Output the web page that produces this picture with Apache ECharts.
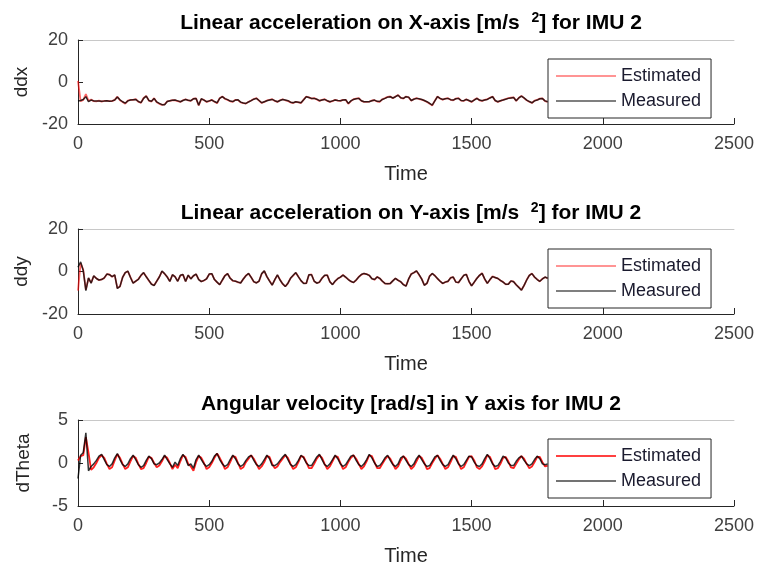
<!DOCTYPE html>
<html>
<head>
<meta charset="utf-8">
<script src="https://cdn.jsdelivr.net/npm/echarts@6/dist/echarts.min.js"></script>
<style>html,body{margin:0;padding:0;background:#fff}#c{width:757px;height:570px}</style>
</head>
<body>
<div id="c"></div>
<script>
// sampling grid: time = 0, 10, ..., 1790
const timeStart = 0, timeStep = 10;

const ddxMeasured = [
-9.0,-8.8,-8.3,-7.0,-9.4,-8.6,-9.0,-9.1,-9.0,-9.2,
-9.1,-8.9,-9.2,-9.0,-8.6,-7.2,-8.5,-9.4,-10.1,-9.0,
-8.6,-8.4,-8.3,-9.3,-9.8,-7.8,-6.7,-8.8,-9.2,-7.8,
-9.5,-10.2,-10.8,-10.8,-9.3,-8.9,-8.7,-8.6,-9.0,-9.4,
-8.8,-8.3,-8.7,-8.9,-8.0,-7.9,-11.0,-8.0,-8.6,-9.4,
-9.0,-8.6,-9.3,-9.9,-7.8,-7.0,-7.9,-8.4,-9.1,-9.3,
-8.6,-8.5,-9.6,-10.0,-10.2,-9.5,-8.9,-8.2,-7.8,-8.8,
-9.9,-9.4,-8.9,-8.6,-8.3,-8.9,-9.4,-8.8,-8.3,-8.6,
-8.9,-9.6,-9.9,-9.4,-9.6,-9.9,-8.5,-7.0,-7.4,-7.8,
-7.8,-8.2,-8.9,-8.6,-8.3,-8.9,-9.4,-9.0,-8.6,-8.8,
-8.9,-8.6,-8.4,-10.2,-9.0,-8.3,-8.0,-7.8,-8.9,-9.4,
-9.4,-9.4,-8.9,-8.6,-9.2,-9.3,-8.3,-7.8,-7.2,-7.0,
-7.6,-7.0,-6.3,-7.5,-7.8,-7.0,-7.2,-8.8,-8.2,-7.8,
-8.0,-8.3,-8.8,-9.4,-10.2,-11.0,-9.0,-7.0,-7.8,-8.3,
-8.0,-7.8,-8.4,-8.6,-8.0,-7.8,-8.8,-8.9,-8.3,-8.8,
-9.4,-8.6,-7.8,-8.6,-8.9,-8.6,-8.3,-7.6,-7.0,-8.8,
-9.4,-8.9,-8.6,-8.2,-7.8,-7.6,-7.4,-8.9,-7.6,-6.7,
-7.6,-8.6,-9.3,-9.9,-9.0,-8.6,-8.0,-7.9,-9.0,-9.4
];
const ddxEstimated = [
0.5,-9.2,-8.5,-5.8,-9.0,-8.4,-9.1,-9.2,-8.9,-9.3,
-9.0,-9.0,-9.1,-9.1,-8.5,-7.0,-8.7,-9.5,-10.3,-8.9,
-8.5,-8.5,-8.2,-9.4,-9.9,-7.6,-6.6,-8.9,-9.3,-7.7,
-9.6,-10.4,-10.9,-10.7,-9.2,-9.0,-8.6,-8.7,-9.1,-9.5,
-8.7,-8.2,-8.8,-9.0,-7.9,-7.8,-11.2,-8.1,-8.5,-9.5,
-9.1,-8.5,-9.4,-10.1,-7.7,-6.9,-8.0,-8.5,-9.2,-9.4,
-8.5,-8.6,-9.7,-10.1,-10.3,-9.4,-8.8,-8.1,-7.7,-8.9,
-10.0,-9.5,-8.8,-8.5,-8.2,-9.0,-9.5,-8.7,-8.2,-8.7,
-9.0,-9.7,-10.0,-9.5,-9.7,-10.0,-8.4,-6.9,-7.3,-7.9,
-7.7,-8.3,-9.0,-8.5,-8.2,-9.0,-9.5,-9.1,-8.5,-8.9,
-9.0,-8.5,-8.5,-10.4,-9.1,-8.2,-7.9,-7.7,-9.0,-9.5,
-9.5,-9.3,-8.8,-8.7,-9.3,-9.4,-8.2,-7.7,-7.1,-6.9,
-7.7,-6.9,-6.2,-7.6,-7.9,-6.9,-7.3,-8.9,-8.1,-7.7,
-8.1,-8.4,-8.9,-9.5,-10.3,-11.2,-8.9,-6.9,-7.9,-8.4,
-7.9,-7.7,-8.5,-8.7,-7.9,-7.7,-8.9,-9.0,-8.2,-8.9,
-9.5,-8.5,-7.7,-8.7,-9.0,-8.5,-8.2,-7.5,-6.9,-8.9,
-9.5,-9.0,-8.5,-8.1,-7.7,-7.5,-7.3,-9.0,-7.5,-6.6,
-7.7,-8.7,-9.4,-10.0,-8.9,-8.5,-7.9,-7.8,-9.1,-9.5
];

const ddyMeasured = [
2.0,4.5,0.5,-9.0,-3.0,-5.5,-2.0,-3.3,-4.0,-3.8,
-3.0,-1.2,-1.5,-2.4,-1.6,-8.0,-7.0,-2.8,-0.5,0.2,
-2.8,-5.5,-4.5,-3.7,-1.8,-0.5,-2.5,-4.2,-6.0,-6.6,
-4.5,-2.6,0.2,-1.0,-2.6,-4.7,-1.5,-2.5,-4.6,-1.8,
-1.4,-4.7,-1.7,-3.5,-2.0,-1.2,-3.8,-4.8,-4.2,-3.5,
-1.2,-1.0,-3.8,-5.0,-6.2,-4.0,-2.0,-1.0,-3.2,-4.3,
-4.6,-5.0,-5.4,-3.5,-2.0,-0.9,-2.8,-4.8,-5.4,-4.5,
-1.0,0.3,-2.4,-4.5,-6.4,-3.8,-1.6,-4.0,-5.8,-7.1,
-5.5,-3.2,-1.8,-0.5,-2.5,-4.3,-5.6,-5.5,-1.5,-1.5,
-4.5,-5.5,-5.0,-3.2,-1.8,-1.8,-4.8,-6.2,-4.5,-3.4,
-2.6,-1.7,-2.6,-3.8,-4.6,-5.2,-4.0,-2.6,-1.4,-0.9,
-1.3,-1.8,-3.4,-3.8,-2.6,-3.2,-4.6,-5.6,-5.8,-5.6,
-4.4,-3.2,-4.2,-4.8,-6.2,-6.9,-3.5,-1.2,-0.5,0.3,
-1.5,-3.6,-6.5,-5.5,-2.2,-0.9,-2.0,-3.3,-4.6,-5.6,
-5.0,-4.6,-3.0,-2.6,-5.0,-5.2,-3.5,-1.8,-1.4,-4.6,
-6.8,-5.0,-3.3,-1.8,-0.9,-3.5,-5.6,-3.8,-2.4,-2.8,
-3.3,-4.2,-5.0,-6.0,-6.0,-4.4,-4.8,-6.2,-7.5,-8.8,
-6.5,-4.0,-1.8,-1.0,-2.6,-3.8,-4.6,-3.5,-2.6,-3.2
];
const ddyEstimated = [
-9.0,4.0,0.8,-8.6,-3.2,-5.3,-2.2,-3.2,-4.1,-3.7,
-3.1,-1.3,-1.4,-2.5,-1.7,-7.8,-7.1,-2.7,-0.6,0.1,
-2.7,-5.4,-4.6,-3.6,-1.9,-0.6,-2.4,-4.3,-5.9,-6.5,
-4.6,-2.5,0.1,-1.1,-2.5,-4.6,-1.6,-2.4,-4.5,-1.9,
-1.5,-4.6,-1.8,-3.4,-2.1,-1.3,-3.7,-4.7,-4.3,-3.4,
-1.3,-1.1,-3.7,-5.1,-6.1,-4.1,-1.9,-1.1,-3.1,-4.4,
-4.5,-5.1,-5.3,-3.6,-1.9,-1.0,-2.7,-4.9,-5.3,-4.6,
-1.1,0.2,-2.5,-4.4,-6.3,-3.9,-1.7,-3.9,-5.9,-7.0,
-5.6,-3.1,-1.9,-0.6,-2.4,-4.4,-5.5,-5.6,-1.6,-1.4,
-4.6,-5.4,-5.1,-3.1,-1.9,-1.7,-4.9,-6.1,-4.6,-3.3,
-2.7,-1.6,-2.7,-3.7,-4.7,-5.1,-4.1,-2.5,-1.5,-1.0,
-1.2,-1.9,-3.3,-3.9,-2.5,-3.3,-4.5,-5.7,-5.7,-5.7,
-4.3,-3.3,-4.1,-4.9,-6.1,-6.8,-3.6,-1.1,-0.6,0.2,
-1.6,-3.5,-6.4,-5.6,-2.1,-1.0,-1.9,-3.4,-4.5,-5.7,
-4.9,-4.7,-2.9,-2.7,-4.9,-5.3,-3.4,-1.9,-1.3,-4.7,
-6.7,-5.1,-3.2,-1.9,-0.8,-3.6,-5.5,-3.9,-2.3,-2.9,
-3.2,-4.3,-4.9,-6.1,-5.9,-4.5,-4.7,-6.3,-7.4,-8.7,
-6.6,-3.9,-1.9,-0.9,-2.7,-3.7,-4.7,-3.4,-2.7,-3.1
];

const dthMeasured = [
-1.8,0.9,1.2,3.5,-0.9,-0.4,-0.1,0.3,0.8,1.0,
0.4,-0.2,-0.4,-0.1,0.6,1.1,0.4,-0.2,-0.4,-0.1,
0.5,0.9,0.4,-0.2,-0.5,-0.3,0.3,0.8,0.5,-0.1,
-0.2,0.0,0.4,0.9,0.4,-0.1,-0.5,0.1,-0.3,0.5,
1.0,0.5,-0.3,-0.1,-0.6,0.4,0.9,0.4,-0.1,-0.4,
-0.2,0.2,0.8,1.1,0.4,-0.1,-0.4,-0.2,0.4,0.9,
0.5,-0.1,-0.4,-0.2,0.3,0.7,0.9,0.3,-0.2,-0.4,
-0.1,0.4,0.9,0.5,-0.3,-0.3,-0.1,0.3,0.7,1.0,
0.4,-0.2,-0.4,-0.2,0.3,0.9,0.6,0.0,-0.3,-0.3,
0.2,0.7,1.0,0.4,-0.2,-0.4,-0.1,0.4,0.9,0.5,
-0.1,-0.4,-0.2,0.3,0.8,0.9,0.3,-0.2,-0.4,-0.1,
0.4,1.0,0.6,0.0,-0.4,-0.3,0.1,0.6,0.9,0.3,
-0.2,-0.4,-0.1,0.6,0.8,0.3,-0.2,-0.4,-0.1,0.5,
0.9,0.4,-0.1,-0.4,-0.3,0.2,0.7,0.9,0.3,-0.2,
-0.4,-0.2,0.4,0.9,0.5,-0.1,-0.4,-0.2,0.3,0.8,
0.7,0.1,-0.3,-0.4,-0.1,0.5,1.0,0.5,-0.1,-0.4,
-0.3,0.2,0.8,0.6,0.0,-0.3,-0.3,0.2,0.6,0.8,
0.3,-0.1,-0.3,-0.1,0.4,0.8,0.5,-0.1,-0.2,-0.1
];
const dthEstimated = [
0.3,0.8,0.9,3.0,1.2,-0.8,-0.5,0.0,0.6,0.9,
0.6,-0.1,-0.7,-0.5,0.3,1.0,0.6,-0.1,-0.7,-0.5,
0.2,0.8,0.6,-0.1,-0.7,-0.6,0.0,0.7,0.6,0.0,
-0.5,-0.3,0.2,0.8,0.6,0.0,-0.7,-0.2,-0.6,0.2,
0.9,0.7,-0.1,-0.4,-0.9,0.1,0.8,0.6,0.0,-0.7,
-0.5,0.0,0.6,1.1,0.6,0.0,-0.7,-0.5,0.1,0.8,
0.7,0.0,-0.7,-0.5,0.1,0.5,0.9,0.5,-0.1,-0.7,
-0.4,0.1,0.8,0.7,-0.1,-0.6,-0.4,0.1,0.5,0.9,
0.6,-0.1,-0.7,-0.5,0.1,0.8,0.7,0.1,-0.6,-0.6,
-0.1,0.5,0.9,0.6,-0.1,-0.7,-0.4,0.2,0.8,0.7,
0.0,-0.7,-0.5,0.1,0.6,0.9,0.5,-0.1,-0.7,-0.4,
0.2,0.9,0.8,0.1,-0.6,-0.6,-0.1,0.4,0.8,0.5,
-0.1,-0.7,-0.4,0.3,0.8,0.5,-0.1,-0.7,-0.4,0.2,
0.8,0.6,0.0,-0.7,-0.6,0.0,0.5,0.9,0.5,-0.1,
-0.7,-0.5,0.1,0.8,0.7,0.0,-0.7,-0.5,0.1,0.7,
0.8,0.3,-0.5,-0.7,-0.4,0.2,0.9,0.7,0.0,-0.7,
-0.6,-0.1,0.6,0.7,0.2,-0.5,-0.6,-0.1,0.4,0.8,
0.5,-0.1,-0.6,-0.4,0.1,0.7,0.7,0.1,-0.4,-0.3
];

const xTicks = {min: 0, max: 2500, interval: 500};
const panels = [
  {pre: 'Linear acceleration on X-axis [m/s  ', sup: '2', post: '] for IMU 2', yName: 'ddx',
   yMin: -20, yMax: 20, yInt: 20, est: ddxEstimated, meas: ddxMeasured,
   top: 40, height: 84, titleTop: 6, legendTop: 59,
   estColor: 'rgba(255,0,0,0.6)', measColor: 'rgba(0,0,0,0.78)', estLeg: '#ff7070', measLeg: '#555555'},
  {pre: 'Linear acceleration on Y-axis [m/s  ', sup: '2', post: '] for IMU 2', yName: 'ddy',
   yMin: -20, yMax: 20, yInt: 20, est: ddyEstimated, meas: ddyMeasured,
   top: 229, height: 85, titleTop: 196, legendTop: 249,
   estColor: 'rgba(255,0,0,0.6)', measColor: 'rgba(0,0,0,0.78)', estLeg: '#ff7070', measLeg: '#555555'},
  {pre: 'Angular velocity [rad/s] in Y axis for IMU 2', sup: '', post: '', yName: 'dTheta',
   yMin: -5, yMax: 5, yInt: 5, est: dthEstimated, meas: dthMeasured,
   top: 420, height: 86, titleTop: 389, legendTop: 439,
   estColor: 'rgba(255,0,0,0.88)', measColor: 'rgba(0,0,0,0.8)', estLeg: '#ff0000', measLeg: '#444444'}
];

const FONT = "'Liberation Sans', Arial, sans-serif";
const AX = '#262626';
const pairs = arr => arr.map((v, i) => [timeStart + i * timeStep, v]);

const option = {
  animation: false,
  backgroundColor: '#ffffff',
  title: [], grid: [], xAxis: [], yAxis: [], legend: [], series: []
};

panels.forEach((p, i) => {
  const rich = {
    t: {fontSize: 21, fontWeight: 'bold', fontFamily: FONT, color: '#000'},
    s: {fontSize: 14, fontWeight: 'bold', fontFamily: FONT, color: '#000', verticalAlign: 'top', padding: [0, 0, 10, 0]}
  };
  let text = '{t|' + p.pre + '}';
  if (p.sup) text += '{s|' + p.sup + '}{t|' + p.post + '}';
  option.title.push({text: text, left: 406, top: p.titleTop, textAlign: 'center',
    textStyle: {rich: rich, fontFamily: FONT}});
  option.grid.push({left: 78, right: 23, top: p.top, height: p.height});
  option.xAxis.push({
    gridIndex: i, type: 'value', min: xTicks.min, max: xTicks.max, interval: xTicks.interval,
    axisLine: {show: true, onZero: false, lineStyle: {color: AX, width: 1}},
    axisTick: {show: true, inside: true, length: 6, lineStyle: {color: AX}},
    axisLabel: {color: '#404040', fontSize: 18, fontFamily: FONT, margin: 11, formatter: v => String(v)},
    splitLine: {show: false},
    name: 'Time', nameLocation: 'middle', nameGap: 40,
    nameTextStyle: {fontSize: 20, color: '#262626', fontFamily: FONT}
  });
  option.xAxis.push({
    gridIndex: i, type: 'value', position: 'top', min: xTicks.min, max: xTicks.max,
    axisLine: {show: true, onZero: false, lineStyle: {color: '#c8c8c8', width: 1}},
    axisTick: {show: false}, axisLabel: {show: false}, splitLine: {show: false}
  });
  option.yAxis.push({
    gridIndex: i, type: 'value', min: p.yMin, max: p.yMax, interval: p.yInt,
    axisLine: {show: true, onZero: false, lineStyle: {color: AX, width: 1}},
    axisTick: {show: true, inside: true, length: 5, lineStyle: {color: AX}},
    axisLabel: {color: '#404040', fontSize: 18, fontFamily: FONT, margin: 10, formatter: v => String(v)},
    splitLine: {show: false},
    name: p.yName, nameLocation: 'middle', nameGap: 45,
    nameTextStyle: {fontSize: 19, color: '#262626', fontFamily: FONT}
  });
  option.legend.push({
    orient: 'vertical', left: 548, top: p.legendTop,
    itemWidth: 60, itemHeight: 14, itemGap: 7,
    padding: [8, 10, 8, 8],
    borderColor: '#262626', borderWidth: 1, backgroundColor: '#ffffff',
    textStyle: {fontSize: 18, color: '#1a1a2e', fontFamily: FONT},
    selectedMode: false,
    data: [
      {name: 'Estimated', icon: 'path://M0,0L60,0L60,1.6L0,1.6Z', itemStyle: {color: p.estLeg}},
      {name: 'Measured', icon: 'path://M0,0L60,0L60,1.6L0,1.6Z', itemStyle: {color: p.measLeg}}
    ]
  });
  option.series.push({
    name: 'Estimated', type: 'line', xAxisIndex: 2 * i, yAxisIndex: i,
    data: pairs(p.est), symbol: 'none', showSymbol: false,
    lineStyle: {color: p.estColor, width: 1.8}, itemStyle: {color: p.estColor}, z: 2
  });
  option.series.push({
    name: 'Measured', type: 'line', xAxisIndex: 2 * i, yAxisIndex: i,
    data: pairs(p.meas), symbol: 'none', showSymbol: false,
    lineStyle: {color: p.measColor, width: 1.5}, itemStyle: {color: p.measColor}, z: 3
  });
});

const chart = echarts.init(document.getElementById('c'), null, {renderer: 'canvas'});
chart.setOption(option);
</script>
</body>
</html>
